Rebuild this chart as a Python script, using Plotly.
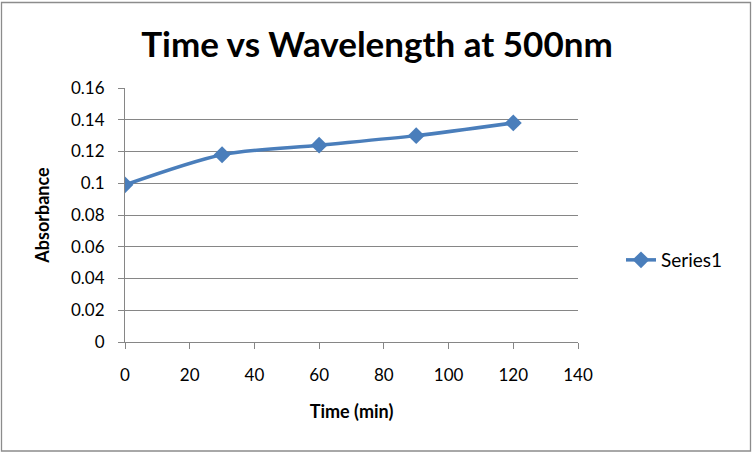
import plotly.graph_objects as go

time_min = [0, 30, 60, 90, 120]
absorbance = [0.099, 0.118, 0.124, 0.130, 0.138]
series_name = "Series1"
title_text = "Time vs Wavelength at 500nm"
x_title = "Time (min)"
y_title = "Absorbance"
x_ticks = [0, 20, 40, 60, 80, 100, 120, 140]
y_ticks = [0, 0.02, 0.04, 0.06, 0.08, 0.1, 0.12, 0.14, 0.16]
y_tick_labels = ["0", "0.02", "0.04", "0.06", "0.08", "0.1", "0.12", "0.14", "0.16"]

W, H = 754, 454
L, R, T, B = 125, 176, 88, 112
FONT = "Lato, 'Open Sans', sans-serif"
BLUE = "#4A7EBB"
GRID = "#868686"

fig = go.Figure()
fig.add_trace(go.Scatter(
    x=time_min, y=absorbance, name=series_name, mode="lines+markers",
    line=dict(color=BLUE, width=3.5, shape="spline", smoothing=0.8),
    marker=dict(symbol="diamond", size=13, color=BLUE),
))

pw = W - L - R
ph = H - T - B
fig.add_shape(type="rect", xref="paper", yref="paper",
              x0=(1.5 - L) / pw, x1=(750.5 - L) / pw,
              y0=-(451 - T - ph) / ph, y1=1 + (T - 2.5) / ph,
              line=dict(color="#8c8c8c", width=1.3), layer="below")

fig.update_layout(
    width=W, height=H,
    margin=dict(l=L, r=R, t=T, b=B),
    paper_bgcolor="white", plot_bgcolor="white",
    font=dict(family=FONT, color="black", size=17),
    title=dict(text="<b>" + title_text + "</b>", x=0.5, xref="container", xanchor="center",
               y=1 - 45 / H, yanchor="middle", font=dict(size=35, family=FONT)),
    showlegend=True,
    legend=dict(x=(621 - L) / pw, xanchor="left", y=(H - B - 260) / ph, yanchor="middle",
                font=dict(size=19, family=FONT), bgcolor="rgba(0,0,0,0)"),
    xaxis=dict(range=[0, 140], tickvals=x_ticks, showgrid=False, zeroline=False,
               showline=True, linecolor=GRID, linewidth=1,
               ticks="outside", ticklen=6, tickcolor=GRID,
               ticklabelstandoff=12,
               title=dict(text="<b>" + x_title + "</b>", font=dict(size=18), standoff=20),
               tickfont=dict(size=17)),
    yaxis=dict(range=[0, 0.16], tickvals=y_ticks, ticktext=y_tick_labels,
               showgrid=True, gridcolor=GRID, gridwidth=1, zeroline=False,
               showline=True, linecolor=GRID, linewidth=1,
               ticks="outside", ticklen=6, tickcolor=GRID,
               ticklabelstandoff=10,
               title=dict(text="<b>" + y_title + "</b>", font=dict(size=18), standoff=16),
               tickfont=dict(size=17)),
)

fig.write_html("out.html", config={"displayModeBar": False},
               post_script="document.body.style.margin='0';")
